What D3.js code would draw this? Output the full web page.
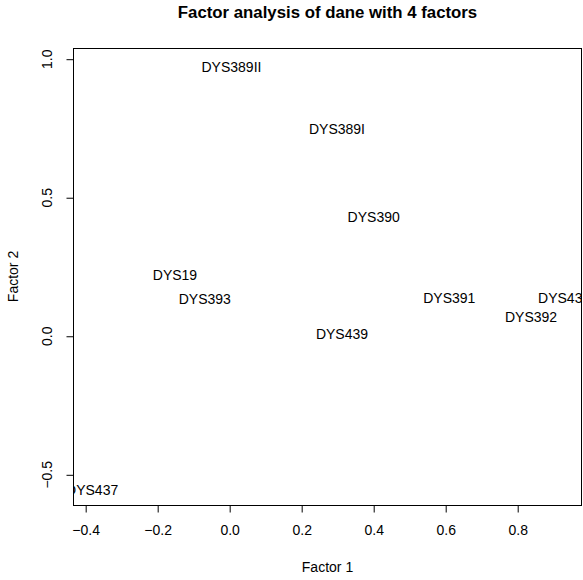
<!DOCTYPE html>
<html>
<head>
<meta charset="utf-8">
<script src="https://cdn.jsdelivr.net/npm/d3@7"></script>
<style>
  body { margin: 0; background: #fff; }
  text { font-family: "Liberation Sans", Arial, Helvetica, sans-serif; fill: #000; }
</style>
</head>
<body>
<svg id="chart" width="583" height="580"></svg>
<script>
// Data: factor loadings (Factor 1, Factor 2)
const variables = ["DYS19", "DYS389I", "DYS389II", "DYS390", "DYS391", "DYS392", "DYS393", "DYS437", "DYS438", "DYS439"];
const factor1 = [-0.152, 0.298, 0.005, 0.400, 0.610, 0.837, -0.069, -0.382, 0.929, 0.312];
const factor2 = [0.221, 0.750, 0.973, 0.431, 0.137, 0.068, 0.133, -0.553, 0.137, 0.007];
const xTicks = [-0.4, -0.2, 0.0, 0.2, 0.4, 0.6, 0.8];
const yTicks = [-0.5, 0.0, 0.5, 1.0];
const titleText = "Factor analysis of dane with 4 factors";
const xLabel = "Factor 1";
const yLabel = "Factor 2";

const svg = d3.select("#chart");
const plot = { left: 73, right: 582, top: 48, bottom: 505 };

const x = d3.scaleLinear().domain([-0.4352, 0.9786]).range([plot.left, plot.right]);
const y = d3.scaleLinear().domain([-0.609, 1.0404]).range([plot.bottom, plot.top]);

svg.append("defs").append("clipPath").attr("id", "clip")
  .append("rect")
  .attr("x", plot.left).attr("y", plot.top)
  .attr("width", plot.right - plot.left).attr("height", plot.bottom - plot.top);

// Points as text labels
svg.append("g").attr("clip-path", "url(#clip)")
  .selectAll("text")
  .data(variables)
  .join("text")
  .attr("x", (d, i) => x(factor1[i]))
  .attr("y", (d, i) => y(factor2[i]))
  .attr("text-anchor", "middle")
  .attr("dy", "0.36em")
  .attr("font-size", 14)
  .text(d => d);

// Box
svg.append("rect")
  .attr("x", plot.left + 0.5).attr("y", plot.top + 0.5)
  .attr("width", plot.right - plot.left - 1).attr("height", plot.bottom - plot.top)
  .attr("fill", "none").attr("stroke", "#000").attr("stroke-width", 1);

// X axis
const xAxis = d3.axisBottom(x).tickValues(xTicks).tickSize(7).tickPadding(13)
  .tickFormat(d => d3.format(".1f")(d).replace("-", "\u2212"));
const gx = svg.append("g").attr("transform", `translate(0,${plot.bottom + 0.5})`).call(xAxis);
gx.select(".domain").remove();
gx.selectAll("line").attr("stroke", "#000");
gx.selectAll("text").attr("font-size", 14).attr("fill", "#000");

// Y axis
const yAxis = d3.axisLeft(y).tickValues(yTicks).tickSize(7).tickPadding(0)
  .tickFormat(d => d3.format(".1f")(d).replace("-", "\u2212"));
const gy = svg.append("g").attr("transform", `translate(${plot.left + 0.5},0)`).call(yAxis);
gy.select(".domain").remove();
gy.selectAll("line").attr("stroke", "#000");
gy.selectAll("text")
  .attr("font-size", 14).attr("fill", "#000")
  .attr("x", null).attr("dy", null)
  .attr("text-anchor", "middle")
  .attr("dominant-baseline", "central")
  .attr("transform", d => `translate(${46.7 - plot.left - 0.5},${y(d)}) rotate(-90)`)
  .attr("y", null);
gy.selectAll(".tick").attr("transform", null);
gy.selectAll(".tick line").attr("y1", d => y(d) + 0.5).attr("y2", d => y(d) + 0.5);

// Title
svg.append("text")
  .attr("x", (plot.left + plot.right) / 2).attr("y", 18)
  .attr("text-anchor", "middle").attr("font-weight", "bold").attr("font-size", 16.8)
  .text(titleText);

// Axis labels
svg.append("text")
  .attr("x", (plot.left + plot.right) / 2).attr("y", 572)
  .attr("text-anchor", "middle").attr("font-size", 14)
  .text(xLabel);

svg.append("text")
  .attr("transform", `translate(18,${(plot.top + plot.bottom) / 2}) rotate(-90)`)
  .attr("text-anchor", "middle").attr("font-size", 14)
  .text(yLabel);
</script>
</body>
</html>
